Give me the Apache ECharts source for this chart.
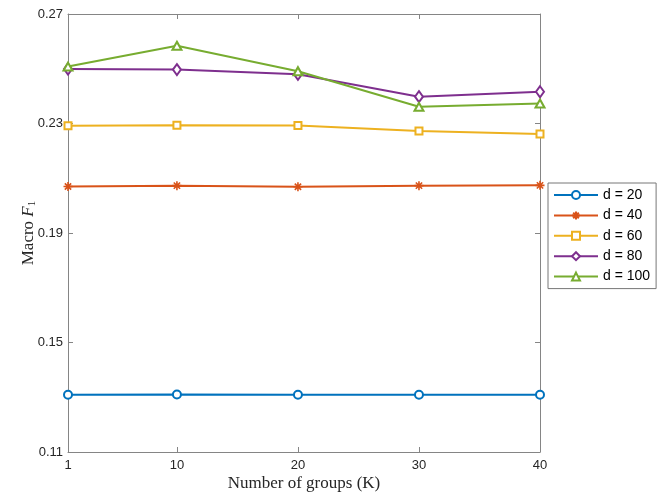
<!DOCTYPE html>
<html>
<head>
<meta charset="utf-8">
<script src="https://cdn.jsdelivr.net/npm/echarts@6/dist/echarts.min.js"></script>
<style>
  html, body { margin: 0; padding: 0; background: #fff; }
  #main { width: 664px; height: 497px; }
</style>
</head>
<body>
<div id="main"></div>
<script>
// number of groups K (x axis)
var groups = [1, 10, 20, 30, 40];
var xTicks = [1, 10, 20, 30, 40];
var yTicks = [0.11, 0.15, 0.19, 0.23, 0.27];

// Macro F1 for each dimension d
var names = ['d = 20', 'd = 40', 'd = 60', 'd = 80', 'd = 100'];
var d20  = [0.1309, 0.1310, 0.1309, 0.1309, 0.1309];
var d40  = [0.2070, 0.2073, 0.2069, 0.2073, 0.2074];
var d60  = [0.2292, 0.2294, 0.2293, 0.2273, 0.2262];
var d80  = [0.2499, 0.2497, 0.2480, 0.2398, 0.2416];
var d100 = [0.2508, 0.2584, 0.2491, 0.2361, 0.2373];

var colors = ['#0072BD', '#D95319', '#EDB120', '#7E2F8E', '#77AC30'];
var star = 'path://M0,5L10,5M5,0L5,10M1.5,1.5L8.5,8.5M8.5,1.5L1.5,8.5';
var symbols = ['emptyCircle', star, 'emptyRect', 'emptyDiamond', 'emptyTriangle'];
var sizes = [8, 9, 7, [8, 11], [9, 8]];

var axisCol = '#858585';
var txtCol = '#262626';

function pairs(vals) {
    return vals.map(function (v, i) { return [groups[i], v]; });
}

var series = [d20, d40, d60, d80, d100].map(function (vals, i) {
    return {
        name: names[i],
        type: 'line',
        data: pairs(vals),
        symbol: symbols[i],
        symbolSize: sizes[i],
        showAllSymbol: true,
        lineStyle: { width: 2, color: colors[i] },
        itemStyle: { color: colors[i], borderColor: colors[i], borderWidth: 1.6 },
        emphasis: { disabled: true },
        z: 3 + i
    };
});

var baseX = {
    type: 'value', min: 1, max: 40,
    axisLine: { show: true, lineStyle: { color: axisCol, width: 1 } },
    axisTick: { show: true, inside: true, length: 5, customValues: xTicks, lineStyle: { color: axisCol } },
    splitLine: { show: false }
};
var baseY = {
    type: 'value', min: 0.11, max: 0.27,
    axisLine: { show: true, lineStyle: { color: axisCol, width: 1 } },
    axisTick: { show: true, inside: true, length: 5, customValues: yTicks, lineStyle: { color: axisCol } },
    splitLine: { show: false }
};

var option = {
    backgroundColor: '#fff',
    animation: false,
    grid: { left: 68, right: 124, top: 14, bottom: 44, containLabel: false },
    legend: {
        orient: 'vertical',
        left: 548, top: 183,
        itemWidth: 44, itemHeight: 10, itemGap: 6.4,
        padding: [5, 6, 5, 5],
        borderColor: '#777', borderWidth: 1,
        backgroundColor: '#fff',
        textStyle: { fontFamily: 'Liberation Sans', fontSize: 14, color: '#000' },
        data: names
    },
    xAxis: [
        Object.assign({}, baseX, {
            position: 'bottom',
            name: 'Number of groups (K)',
            nameLocation: 'middle', nameGap: 23, nameMoveOverlap: false,
            nameTextStyle: { fontFamily: 'Liberation Serif', fontSize: 17, color: txtCol },
            axisLabel: { show: true, customValues: xTicks, margin: 7, color: txtCol, fontFamily: 'Liberation Sans', fontSize: 13 }
        }),
        Object.assign({}, baseX, { position: 'top', axisLabel: { show: false } })
    ],
    yAxis: [
        Object.assign({}, baseY, {
            position: 'left',
            name: 'Macro {i|F}{s|1}',
            nameLocation: 'middle', nameGap: 30, nameRotate: 90, nameMoveOverlap: false,
            nameTextStyle: {
                fontFamily: 'Liberation Serif', fontSize: 17, color: txtCol,
                rich: {
                    i: { fontFamily: 'Liberation Serif', fontStyle: 'italic', fontSize: 17, color: txtCol },
                    s: { fontFamily: 'Liberation Serif', fontSize: 11, color: txtCol, padding: [7, 0, 0, 0] }
                }
            },
            axisLabel: {
                show: true, customValues: yTicks, margin: 5, color: txtCol,
                fontFamily: 'Liberation Sans', fontSize: 13,
                formatter: function (v) { return v.toFixed(2); }
            }
        }),
        Object.assign({}, baseY, { position: 'right', axisLabel: { show: false } })
    ],
    series: series
};

var myChart = echarts.init(document.getElementById('main'));
myChart.setOption(option);
</script>
</body>
</html>
